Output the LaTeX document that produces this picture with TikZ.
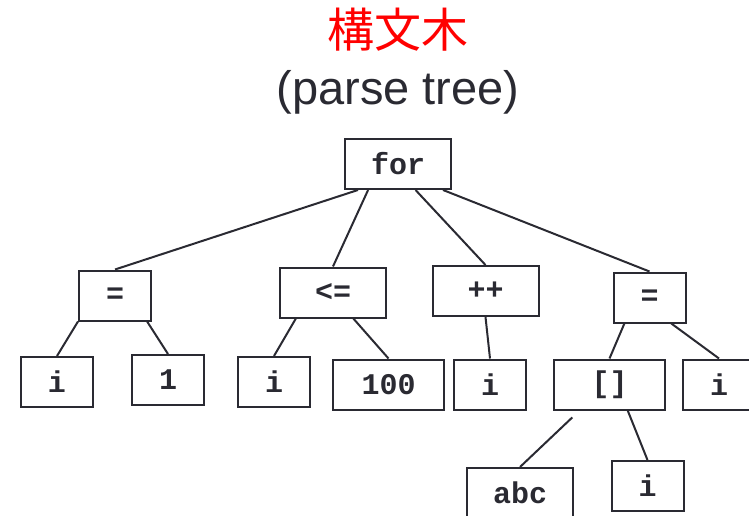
\documentclass[tikz,border=0pt]{standalone}
\usepackage{fontspec}
\setsansfont{Liberation Sans}
\setmonofont{Liberation Mono}
\newfontfamily\cjk{Noto Sans CJK JP}
\definecolor{ink}{RGB}{42,42,50}

\begin{document}
\begin{tikzpicture}[x=1pt, y=-1pt,
    box/.style={draw=ink, line width=2pt, inner sep=0pt, minimum width=72pt, minimum height=50pt,
        text=ink, font=\ttfamily\bfseries\fontsize{30}{30}\selectfont},
    widebox/.style={box, minimum width=106pt}]
    \useasboundingbox (0,0) rectangle (749,516);
    \node[red, anchor=base, font=\cjk\fontsize{47}{47}\selectfont] (title) at (398,48) {構文木};
    \node[ink, anchor=base, font=\sffamily\fontsize{47}{47}\selectfont] (subtitle) at (398,105) {(parse tree)};
    % tree
    \node[widebox] (for) at (398,164) {for};
    \node[box] (eqa) at (115,295.5) {=};
    \node[widebox] (le) at (333,292.5) {<=};
    \node[widebox] (inc) at (485.5,291) {++};
    \node[box] (eqb) at (649.5,297.5) {=};
    \node[box] (ia) at (57,382) {i};
    \node[box] (one) at (168,380) {1};
    \node[box] (ib) at (274,382) {i};
    \node[widebox, minimum width=111pt] (hundred) at (388.5,384.5) {100};
    \node[box] (ic) at (490,384.5) {i};
    \node[widebox, minimum width=111pt] (idx) at (609.5,384.5) {[]};
    \node[box] (id) at (719,384.5) {i};
    \node[widebox] (abc) at (520,493) {abc};
    \node[box] (ie) at (647.5,486) {i};
    \foreach \a/\b in {for.213/eqa, for.221/le, for.304/inc, for.330/eqb,
        eqa.south west/ia, eqa.321/one, le.215/ib, le.308/hundred,
        inc.south/ic, eqb.226/idx, eqb.310/id, idx.305/ie}
        \draw[ink, line width=2pt] (\a) -- (\b.north);
    \draw[ink, line width=2pt, shorten >=10pt] (abc.north) -- (idx.221);
\end{tikzpicture}
\end{document}
